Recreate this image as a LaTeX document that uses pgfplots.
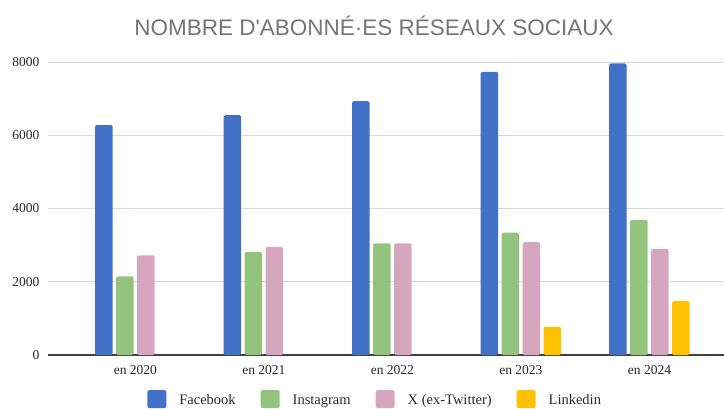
\documentclass[border=0pt]{standalone}
\usepackage{fontspec}
\setmainfont{Liberation Serif}
\newfontfamily\titlefont{Liberation Sans}
\usepackage{pgfplots}
\pgfplotsset{compat=1.18}

\definecolor{fbblue}{RGB}{66,114,200}
\definecolor{iggreen}{RGB}{147,196,125}
\definecolor{xpink}{RGB}{213,166,189}
\definecolor{liyellow}{RGB}{255,192,0}
\definecolor{gridgray}{RGB}{217,217,217}
\definecolor{titlegray}{RGB}{117,117,117}
\definecolor{labelgray}{RGB}{40,40,40}

\begin{document}
\begin{tikzpicture}[x=1pt,y=1pt]
\useasboundingbox (0,0) rectangle (724,408);
\node[font=\titlefont\fontsize{22.5}{26}\selectfont, text=titlegray] at (374,382) {NOMBRE D'ABONNÉ·ES RÉSEAUX SOCIAUX};
\begin{axis}[
  at={(48pt,53pt)}, anchor=south west,
  scale only axis,
  width=676pt, height=293pt,
  ybar=3.5pt, bar width=17.5pt,
  xmin=-0.68, xmax=4.58,
  ymin=0, ymax=8000,
  ytick={0,2000,4000,6000,8000},
  xtick={0,1,2,3,4},
  xticklabels={en 2020,en 2021,en 2022,en 2023,en 2024},
  /pgf/number format/1000 sep={},
  /pgf/number format/assume math mode=true,
  tick style={draw=none},
  ymajorgrids,
  grid style={gridgray, line width=0.9pt},
  axis x line*=bottom,
  axis y line*=left,
  y axis line style={draw=none},
  x axis line style={draw=black!75, line width=1.3pt, -},
  ticklabel style={font=\fontsize{13.5}{15}\selectfont, text=labelgray},
  yticklabel style={xshift=-5pt},
  xticklabel style={yshift=-3pt},
  legend columns=4,
  legend style={at={(0.484,-0.151)}, anchor=center, draw=none, fill=none,
    font=\fontsize{14.5}{16}\selectfont, text=labelgray,
    /tikz/every odd column/.append style={column sep=11pt},
    /tikz/every even column/.append style={column sep=23pt}},
  legend image code/.code={\fill[#1, rounded corners=2pt] (0pt,-7.5pt) rectangle (19pt,10.5pt);},
  every axis plot/.append style={draw=none, rounded corners=1.5pt},
]
\addplot[fill=fbblue] coordinates {(0,6280) (1,6550) (2,6930) (3,7730) (4,7960)};
\addplot[fill=iggreen] coordinates {(0,2150) (1,2810) (2,3050) (3,3340) (4,3690)};
\addplot[fill=xpink] coordinates {(0,2720) (1,2950) (2,3050) (3,3080) (4,2890)};
\addplot[fill=liyellow] coordinates {(3,770) (4,1470)};
\legend{Facebook,Instagram,X (ex-Twitter),Linkedin}
\end{axis}
\end{tikzpicture}
\end{document}
